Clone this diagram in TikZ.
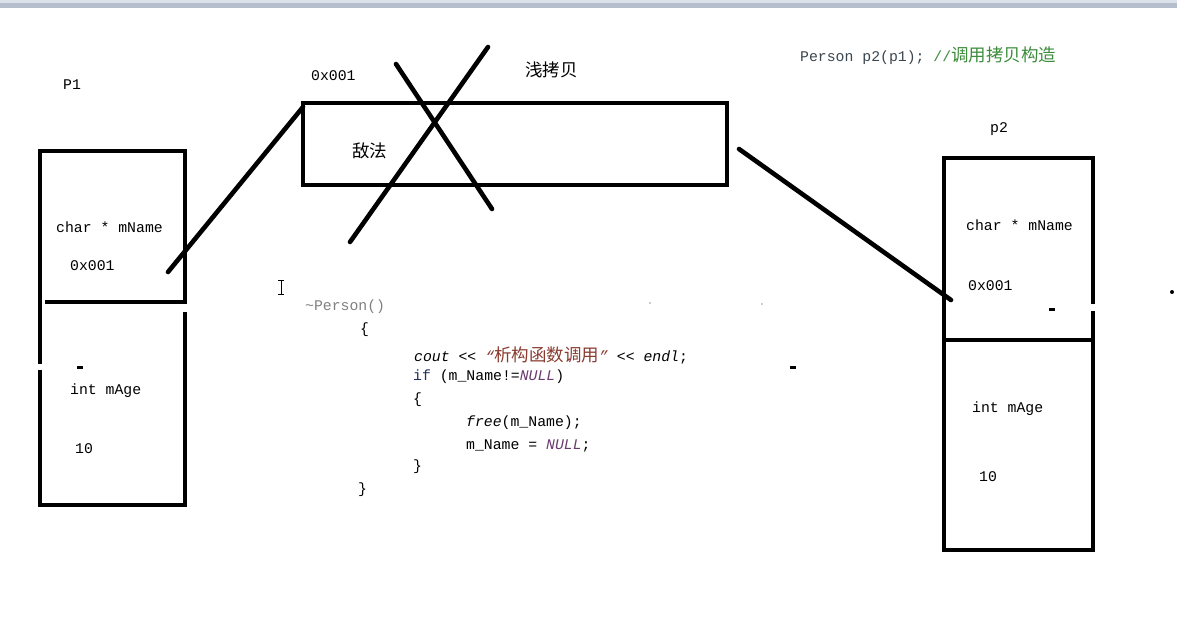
\documentclass[tikz,border=0pt]{standalone}
\usepackage{fontspec}
\setmainfont{Liberation Serif}
\setmonofont{Liberation Mono}
\newfontfamily\cjk{Noto Sans CJK SC}
\newcommand\lat{\ttfamily\fontsize{14.8}{16}\selectfont}
\newcommand\zh[1]{{\cjk\fontsize{17.5}{20}\selectfont #1}}
\definecolor{bandA}{HTML}{DCE2EA}
\definecolor{bandB}{HTML}{B4BECC}
\definecolor{cmtgreen}{HTML}{3C8C3C}
\definecolor{codedark}{HTML}{3A4650}
\definecolor{strbrown}{HTML}{8A3B30}
\definecolor{kwblue}{HTML}{23305E}
\definecolor{nullpurple}{HTML}{6B3A6E}
\begin{document}
\begin{tikzpicture}[x=1pt,y=-1pt,
  boxline/.style={line width=4.6pt},
  conn/.style={line width=4.6pt, line cap=round},
  lbl/.style={anchor=west, inner sep=0pt, font=\lat, text=black}]
\useasboundingbox (0,0) rectangle (1177,622);
\fill[white] (0,0) rectangle (1177,622);
\fill[bandA] (0,0) rectangle (1177,3);
\fill[bandB] (0,3) rectangle (1177,8);

% ---- P1 box ----
\draw[boxline] (185,303) -- (185,151) -- (40,151) -- (40,364);
\draw[boxline] (40,370) -- (40,505) -- (185,505) -- (185,312);
\draw[boxline] (45,302) -- (187,302);
\node[lbl] (p1title) at (63,85) {P1};
\node[lbl] (p1name) at (56,227) {char * mName};
\node[lbl] (p1addr) at (70,266) {0x001};
\node[lbl] (p1age) at (70,391) {int mAge};
\node[lbl] (p1val) at (75,449) {10};
\fill (77,365.5) rectangle (83,368.5);

% ---- middle heap box ----
\draw[boxline] (303,103) rectangle (727,185);
\node[lbl] (heapaddr) at (311,76) {0x001};
\node[anchor=west, inner sep=0pt] (shallow) at (525,70) {\zh{浅拷贝}};
\node[anchor=west, inner sep=0pt] (heaptxt) at (352,151) {\zh{敌法}};
% cross
\coordinate (xa1) at (396,64);
\coordinate (xa2) at (492,209);
\coordinate (xb1) at (488,47);
\coordinate (xb2) at (350,242);
\draw[conn] (xa1) -- (xa2);
\draw[conn] (xb1) -- (xb2);

% ---- connectors ----
\coordinate (p1ptr) at (168,272);
\coordinate (heapL) at (303,107);
\coordinate (heapR) at (739,149);
\coordinate (p2ptr) at (951,300);
\draw[conn] (p1ptr) -- (heapL);
\draw[conn] (heapR) -- (p2ptr);

% ---- p2 box ----
\draw[boxline] (1093,304) -- (1093,158) -- (944,158) -- (944,550) -- (1093,550) -- (1093,311);
\draw[boxline] (944,340) -- (1093,340);
\node[lbl] (p2title) at (990,129) {p2};
\node[lbl] (p2name) at (966,225) {char * mName};
\node[lbl] (p2addr) at (968,286) {0x001};
\node[lbl] (p2age) at (972,409) {int mAge};
\node[lbl] (p2val) at (979,477) {10};
\fill (1049,307.5) rectangle (1055,310.5);

% ---- header code ----
\node[anchor=west, inner sep=0pt, font=\lat] (hdr) at (800,56)
  {\textcolor{codedark}{Person p2(p1); }\textcolor{cmtgreen}{//\zh{调用拷贝构造}}};

% ---- destructor code ----
\node[lbl, text=black!50] (dtor) at (305,307) {\textasciitilde Person()};
\node[lbl] (ob1) at (360,330) {\{};
\node[lbl] (c1) at (414,355) {{\itshape cout} << \textcolor{strbrown}{\itshape “\zh{析构函数调用}”} << {\itshape endl};};
\node[lbl] (c2) at (413,377) {\textcolor{kwblue}{if} (m\_Name!=\textcolor{nullpurple}{\itshape NULL})};
\node[lbl] (ob2) at (413,400) {\{};
\node[lbl] (c3) at (466,423) {{\itshape free}(m\_Name);};
\node[lbl] (c4) at (466,446) {m\_Name = \textcolor{nullpurple}{\itshape NULL};};
\node[lbl] (cb2) at (413,467) {\}};
\node[lbl] (cb1) at (358,490) {\}};

% ---- stray marks ----
\draw[line width=1pt] (278,280) -- (284,280) (281,280) -- (281,294) (278,294) -- (284,294);
\fill (790,365.5) rectangle (796,368.5);
\fill (1172,292) circle (2pt);
\fill[black!40] (650,303) circle (0.8pt);
\fill[black!40] (762,304) circle (0.8pt);
\end{tikzpicture}
\end{document}
